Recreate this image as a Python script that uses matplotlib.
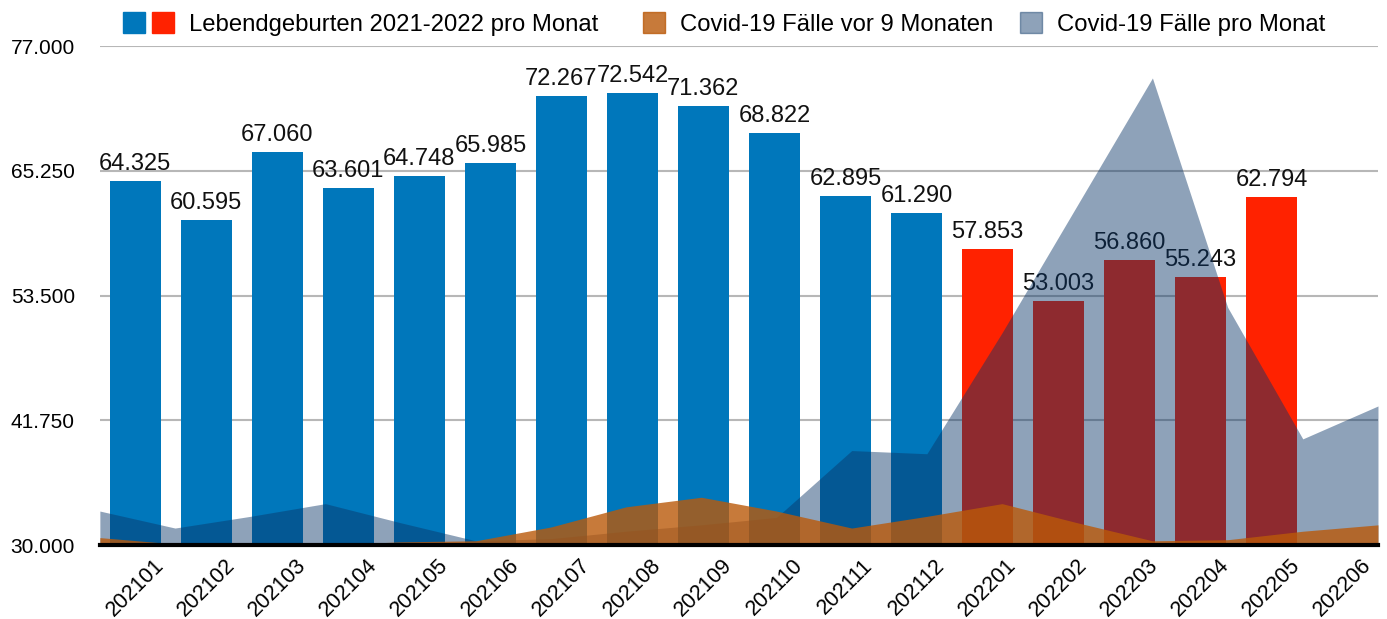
import matplotlib
matplotlib.use("Agg")
import matplotlib.pyplot as plt
from matplotlib.patches import Patch
from matplotlib.legend_handler import HandlerTuple
import numpy as np

plt.rcParams['font.family'] = ['Liberation Sans', 'DejaVu Sans']

months = ['202101', '202102', '202103', '202104', '202105', '202106',
          '202107', '202108', '202109', '202110', '202111', '202112',
          '202201', '202202', '202203', '202204', '202205', '202206']

# Lebendgeburten pro Monat (202101 - 202205)
births = [64325, 60595, 67060, 63601, 64748, 65985, 72267, 72542, 71362,
          68822, 62895, 61290, 57853, 53003, 56860, 55243, 62794]

covid_now = [33200, 31600, 32700, 33900, 32100, 30400, 30600, 31300, 31900,
             32600, 38900, 38600, 50000, 62000, 74000, 52400, 40000, 43100]
covid_9m = [30700, 30100, 30000, 30000, 30300, 30400, 31700, 33600, 34500,
            33200, 31600, 32700, 33900, 32100, 30400, 30500, 31300, 31900]

yticks = [30000, 41750, 53500, 65250, 77000]

blue = '#0077bb'
red = '#ff2200'
gray = '#0a3567'
orange = '#ba5909'

def fmt(v):
    return f"{v:,}".replace(',', '.')

fig = plt.figure(figsize=(13.87, 6.19), dpi=100)
ax = fig.add_axes([0.072, 0.1195, 0.9215, 0.806])

bar_colors = [blue if m.startswith('2021') else red for m in months[:len(births)]]
bars = ax.bar(np.arange(len(births)), births, width=0.72, color=bar_colors, zorder=2)
for b, v in zip(bars, births):
    ax.annotate(fmt(v), (b.get_x() + b.get_width() / 2, v), xytext=(0, 8),
                textcoords='offset points', ha='center', va='baseline',
                fontsize=17, color='#111111', zorder=3)

ax.set_xlim(-0.5, len(months) - 0.5)
ax.set_ylim(yticks[0], yticks[-1])
ax.set_xticks(np.arange(len(months)))
ax.set_xticklabels(months, rotation=45, ha='center', fontsize=15.5)
ax.set_yticks(yticks)
ax.set_yticklabels([fmt(t) for t in yticks], fontsize=15)
ax.tick_params(axis='both', length=0)
ax.tick_params(axis='x', pad=7)
ax.tick_params(axis='y', pad=18)
ax.grid(axis='y', color='#b7b7b7', linewidth=1.5, zorder=0)
ax.set_axisbelow(True)
for s in ax.spines.values():
    s.set_visible(False)

# areas span the full plot width
ax2 = ax.twiny()
ax2.set_xlim(0, len(months) - 1)
ax2.fill_between(np.arange(len(months)), yticks[0], covid_now,
                 color=gray, alpha=0.457, linewidth=0)
ax2.fill_between(np.arange(len(months)), yticks[0], covid_9m,
                 color=orange, alpha=0.8, linewidth=0)
ax2.set_xticks([])
for k, s in ax2.spines.items():
    s.set_visible(k == 'bottom')
ax2.spines['bottom'].set_color('black')
ax2.spines['bottom'].set_linewidth(3)
ax2.spines['bottom'].set_zorder(5)

# legend: three pieces so the square sizes match
fs = 17.2
leg_kw = dict(loc='center left', frameon=False, fontsize=fs, handleheight=0.92,
              handletextpad=0.63, borderpad=0, borderaxespad=0)
fig.legend([(Patch(color=blue), Patch(color=red))],
           ['Lebendgeburten 2021-2022 pro Monat'],
           handler_map={tuple: HandlerTuple(ndivide=None, pad=0.29)},
           bbox_to_anchor=(0.0887, 0.961), handlelength=2.13, **leg_kw)
fig.legend([Patch(color=orange, alpha=0.8)], ['Covid-19 Fälle vor 9 Monaten'],
           bbox_to_anchor=(0.4636, 0.961), handlelength=0.92, **leg_kw)
fig.legend([Patch(color=gray, alpha=0.457)], ['Covid-19 Fälle pro Monat'],
           bbox_to_anchor=(0.7354, 0.961), handlelength=0.92, **leg_kw)

fig.savefig('out.png', dpi=100)
